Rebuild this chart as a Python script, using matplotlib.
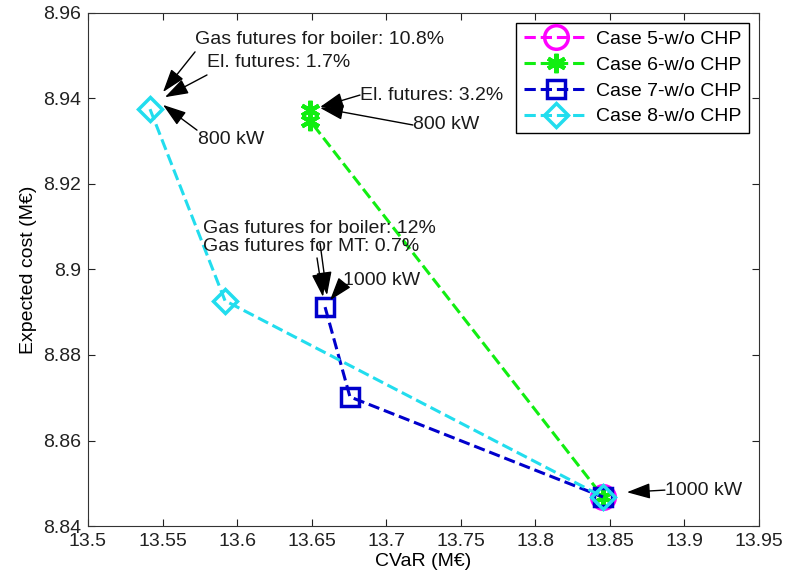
import matplotlib
matplotlib.use("Agg")
import matplotlib.pyplot as plt
from matplotlib.ticker import FuncFormatter

plt.rcParams['font.family'] = ['Liberation Sans', 'DejaVu Sans']

# data (CVaR, expected cost), in M€
case5_x = [13.8454]
case5_y = [8.8468]
case6_x = [13.6489, 13.6489, 13.8454]
case6_y = [8.9373, 8.9348, 8.8468]
case7_x = [13.6590, 13.6757, 13.8454]
case7_y = [8.8912, 8.8702, 8.8468]
case8_x = [13.5416, 13.5919, 13.8454]
case8_y = [8.9375, 8.8927, 8.8468]

labels = ["Case 5-w/o CHP", "Case 6-w/o CHP", "Case 7-w/o CHP", "Case 8-w/o CHP"]

x_ticks = [13.5, 13.55, 13.6, 13.65, 13.7, 13.75, 13.8, 13.85, 13.9, 13.95]
y_ticks = [8.84, 8.86, 8.88, 8.9, 8.92, 8.94, 8.96]

# (text, text pos)
notes = [
    ("Gas futures for boiler: 10.8%", (13.5718, 8.9537)),
    ("El. futures: 1.7%", (13.5798, 8.9483)),
    ("800 kW", (13.5738, 8.9303)),
    ("El. futures: 3.2%", (13.6824, 8.9408)),
    ("800 kW", (13.7179, 8.9338)),
    ("Gas futures for boiler: 12%", (13.5771, 8.9097)),
    ("Gas futures for MT: 0.7%", (13.5771, 8.9053)),
    ("1000 kW", (13.6710, 8.8975)),
    ("1000 kW", (13.8869, 8.8484)),
]
# (tail, head)
arrows = [
    ((13.5718, 8.9509), (13.5503, 8.9415)),
    ((13.5798, 8.9455), (13.5516, 8.9403)),
    ((13.5731, 8.9326), (13.5503, 8.9385)),
    ((13.6824, 8.9408), (13.6556, 8.9380)),
    ((13.7179, 8.9338), (13.6556, 8.9378)),
    ((13.6536, 8.9027), (13.6576, 8.8936)),
    ((13.6556, 8.9062), (13.6603, 8.8940)),
    ((13.6710, 8.8965), (13.6623, 8.8928)),
    ((13.8869, 8.8484), (13.8614, 8.8479)),
]

fig = plt.figure(figsize=(7.87, 5.87), dpi=100)
ax = fig.add_axes([0.1118, 0.1039, 0.8526, 0.874])

ax.plot(case5_x, case5_y, '--o', color='#ff00ff', lw=2.2, ms=17, mew=2.5,
        mfc='none', label=labels[0])
ax.plot(case6_x, case6_y, '--', marker=(6, 2, 0), color='#11ee11', lw=2.2,
        ms=14, mew=3, label=labels[1])
ax.plot(case7_x, case7_y, '--s', color='#0000cc', lw=2.2, ms=13, mew=2.5,
        mfc='none', label=labels[2])
ax.plot(case8_x, case8_y, '--D', color='#22ddee', lw=2.2, ms=12, mew=2.5,
        mfc='none', label=labels[3])

for txt, pos in notes:
    ax.text(pos[0], pos[1], txt, fontsize=14, ha='left', va='center',
            color='#1a1a1a')
for tail, head in arrows:
    ax.annotate('', xy=head, xytext=tail,
                arrowprops=dict(arrowstyle='-|>,head_length=0.9,head_width=0.3',
                                color='k', lw=1, mutation_scale=16,
                                shrinkA=0, shrinkB=0))

ax.set_xlim(13.5, 13.95)
ax.set_ylim(8.84, 8.96)
ax.set_xticks(x_ticks)
ax.set_yticks(y_ticks)
fmt = FuncFormatter(lambda v, p: f"{v:g}")
ax.xaxis.set_major_formatter(fmt)
ax.yaxis.set_major_formatter(fmt)
ax.tick_params(direction='in', top=True, right=True, labelsize=14, length=5,
               colors='#222222', pad=5)
for s in ax.spines.values():
    s.set_color('#333333')

ax.set_xlabel("CVaR (M€)", fontsize=14, labelpad=2)
ax.set_ylabel("Expected cost (M€)", fontsize=14, labelpad=4)

leg = ax.legend(loc='upper right', fontsize=14, fancybox=False,
                edgecolor='k', framealpha=1, handlelength=3.3,
                handletextpad=0.4, borderaxespad=0.5, labelspacing=0.42,
                borderpad=0.4)
leg.get_frame().set_linewidth(1)

fig.savefig("out.png", dpi=100)
